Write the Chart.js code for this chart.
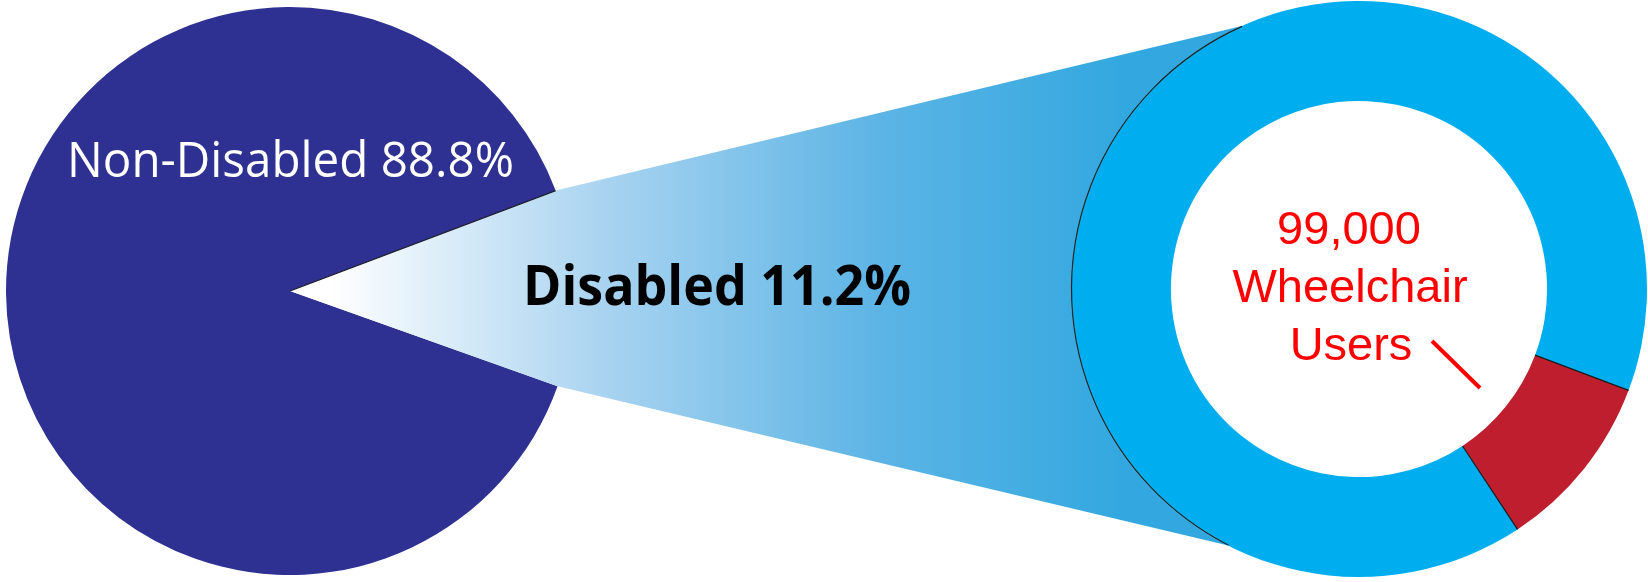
<!DOCTYPE html>
<html><head><meta charset="utf-8">
<script src="https://cdn.jsdelivr.net/npm/chart.js@4.4.1/dist/chart.umd.min.js"></script>
<style>
html,body{margin:0;padding:0;background:#fff;overflow:hidden}
#wrap{position:relative;width:1648px;height:582px}
canvas{position:absolute;left:0;top:0}
</style></head><body>
<div id="wrap">
<canvas id="pie" width="1648" height="582"></canvas>
<canvas id="donut" width="1648" height="582"></canvas>
</div>
<script>
// ---- data ----
const populationLabels = ['Non-Disabled', 'Disabled'];
const populationShares = [88.8, 11.2];
const disabledLabels = ['Wheelchair Users', 'Other Disabled'];
const disabledShares = [10, 90];
const wheelchairCount = 99000;

const PIE_COLOR = '#2E3192';
const BLUE = '#00AEEF';
const RED = '#BE1E2D';

function fitText(ctx, text, x, y, font, width, color) {
  ctx.save();
  ctx.font = font;
  ctx.fillStyle = color;
  ctx.textBaseline = 'alphabetic';
  ctx.textAlign = 'left';
  const w = ctx.measureText(text).width;
  ctx.translate(x, y);
  ctx.scale(width / w, 1);
  ctx.fillText(text, 0, 0);
  ctx.restore();
}
function arcProps(el) {
  return el.getProps(['x', 'y', 'startAngle', 'endAngle', 'innerRadius', 'outerRadius'], true);
}

const pieLabelPlugin = {
  id: 'pieLabel',
  afterDatasetsDraw(chart) {
    const ctx = chart.ctx;
    fitText(ctx, populationLabels[0] + ' ' + populationShares[0].toFixed(1) + '%', 67, 177,
      '400 50px "Open Sans"', 447, '#ffffff');
  }
};

const pieChart = new Chart(document.getElementById('pie'), {
  type: 'pie',
  data: {
    labels: populationLabels,
    datasets: [{
      data: populationShares,
      backgroundColor: [PIE_COLOR, 'rgba(0,0,0,0)'],
      borderWidth: 0,
      hoverOffset: 0
    }]
  },
  options: {
    responsive: false,
    animation: false,
    events: [],
    rotation: 109.6,
    layout: { padding: { left: 6, top: 7, right: 1074, bottom: 7 } },
    plugins: { legend: { display: false }, tooltip: { enabled: false } }
  },
  plugins: [pieLabelPlugin]
});

const funnelPlugin = {
  id: 'funnel',
  beforeDatasetsDraw(chart) {
    const ctx = chart.ctx;
    const p = arcProps(pieChart.getDatasetMeta(0).data[1]);
    const d = arcProps(chart.getDatasetMeta(0).data[0]);
    const upA = 246 * Math.PI / 180, loA = 117 * Math.PI / 180;
    const grad = ctx.createLinearGradient(330, 0, 1120, 0);
    grad.addColorStop(0, '#FFFFFF');
    grad.addColorStop(0.35, '#A8D3F0');
    grad.addColorStop(0.7, '#5BB4E5');
    grad.addColorStop(1, '#33A8E0');
    ctx.save();
    ctx.beginPath();
    ctx.moveTo(p.x, p.y);
    ctx.lineTo(p.x + p.outerRadius * Math.cos(p.startAngle), p.y + p.outerRadius * Math.sin(p.startAngle));
    ctx.lineTo(d.x + d.outerRadius * Math.cos(upA), d.y + d.outerRadius * Math.sin(upA));
    ctx.arc(d.x, d.y, d.outerRadius, upA, loA, true);
    ctx.lineTo(p.x + p.outerRadius * Math.cos(p.endAngle), p.y + p.outerRadius * Math.sin(p.endAngle));
    ctx.closePath();
    ctx.fillStyle = grad;
    ctx.fill();
    // dark edge along upper wedge side
    ctx.beginPath();
    ctx.moveTo(p.x, p.y);
    ctx.lineTo(p.x + p.outerRadius * Math.cos(p.startAngle), p.y + p.outerRadius * Math.sin(p.startAngle));
    ctx.strokeStyle = '#1a1a2a';
    ctx.lineWidth = 1.3;
    ctx.stroke();
    ctx.restore();
    fitText(ctx, populationLabels[1] + ' ' + populationShares[1].toFixed(1) + '%', 523, 305,
      '700 55px "Open Sans"', 388, '#000000');
  },
  afterDatasetsDraw(chart) {
    const ctx = chart.ctx;
    const meta = chart.getDatasetMeta(0);
    const r = arcProps(meta.data[0]);
    const upA = 246 * Math.PI / 180, loA = 117 * Math.PI / 180;
    ctx.save();
    // radial borders around the wheelchair segment
    ctx.strokeStyle = '#1a1a1a';
    ctx.lineWidth = 1.2;
    [r.startAngle, r.endAngle].forEach(a => {
      ctx.beginPath();
      ctx.moveTo(r.x + r.innerRadius * Math.cos(a), r.y + r.innerRadius * Math.sin(a));
      ctx.lineTo(r.x + r.outerRadius * Math.cos(a), r.y + r.outerRadius * Math.sin(a));
      ctx.stroke();
    });
    // outline where the funnel meets the ring
    ctx.beginPath();
    ctx.arc(r.x, r.y, r.outerRadius - 0.5, upA, loA, true);
    ctx.strokeStyle = '#222';
    ctx.lineWidth = 1.2;
    ctx.stroke();
    // centre text
    ctx.fillStyle = '#FF0000';
    ctx.font = '400 47px "Liberation Sans", Arial, sans-serif';
    ctx.textAlign = 'center';
    ctx.textBaseline = 'alphabetic';
    ctx.fillText(wheelchairCount.toLocaleString('en-US'), 1349, 244);
    ctx.fillText('Wheelchair', 1350, 302);
    ctx.fillText('Users', 1351, 360);
    // pointer
    ctx.beginPath();
    ctx.moveTo(1432, 341);
    ctx.lineTo(1480, 388);
    ctx.strokeStyle = '#FF0000';
    ctx.lineWidth = 4;
    ctx.stroke();
    ctx.restore();
  }
};

new Chart(document.getElementById('donut'), {
  type: 'doughnut',
  data: {
    labels: disabledLabels,
    datasets: [{
      data: disabledShares,
      backgroundColor: [RED, BLUE],
      borderWidth: 0,
      hoverOffset: 0
    }]
  },
  options: {
    responsive: false,
    animation: false,
    events: [],
    rotation: 110.6,
    cutout: '65.3%',
    layout: { padding: { left: 1071, top: 1, right: 1, bottom: 5 } },
    plugins: { legend: { display: false }, tooltip: { enabled: false } }
  },
  plugins: [funnelPlugin]
});
</script>
</body></html>
